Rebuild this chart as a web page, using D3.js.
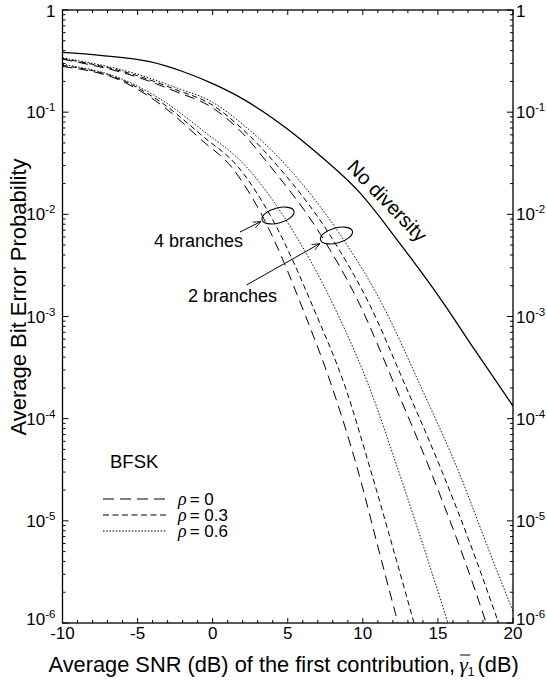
<!DOCTYPE html>
<html>
<head>
<meta charset="utf-8">
<script src="https://cdnjs.cloudflare.com/ajax/libs/d3/7.8.5/d3.min.js"></script>
<style>
  body { margin: 0; background: #fff; }
  svg text { font-family: "Liberation Sans", Arial, Helvetica, sans-serif; fill: #000; }
</style>
</head>
<body>
<svg id="chart" width="547" height="684"></svg>
<script>
// curves: [average SNR (dB), bit error probability]
var noDiversity = [[-10,0.385],[-7.5,0.36],[-4.18,0.312],[-2,0.25],[0,0.19],[2,0.135],[5,0.068],[6.67,0.043],[9.81,0.0162],[12.46,0.0052],[15.23,1.45e-3],[17.5,4.6e-4],[20,1.33e-4]];
var branch2rho0  = [[-10,0.330],[-5,0.22],[-2.5,0.16],[0,0.11],[2,0.062],[3.8,0.030],[7.2,0.0063],[9.7,1.4e-3],[12.2,2e-4],[14.5,3.1e-5],[16.78,4.1e-6],[18.22,1e-6]];
var branch2rho03 = [[-10,0.335],[-5,0.227],[-2.5,0.167],[0,0.117],[2,0.068],[4.3,0.030],[7.8,0.0063],[10.35,1.4e-3],[12.9,2e-4],[15.25,3.1e-5],[17.56,4.1e-6],[19.04,1e-6]];
var branch2rho06 = [[-10,0.340],[-5,0.235],[-2.5,0.175],[0,0.125],[2,0.076],[4.9,0.030],[8.5,0.0063],[11.2,1.4e-3],[13.9,2e-4],[16.35,3.1e-5],[18.66,4.1e-6],[20,1.3e-6]];
var branch4rho0  = [[-10,0.280],[-6,0.200],[-3.5,0.120],[-0.65,0.052],[1.26,0.029],[3.3,0.0097],[6.2,1e-3],[7.97,2e-4],[9.6,3.4e-5],[11.24,4.1e-6],[12.34,1e-6]];
var branch4rho03 = [[-10,0.287],[-6,0.205],[-3.5,0.127],[-0.65,0.058],[1.7,0.029],[3.85,0.0097],[6.95,1e-3],[8.85,2e-4],[10.5,3.2e-5],[12.24,4.1e-6],[13.41,1e-6]];
var branch4rho06 = [[-10,0.294],[-6,0.210],[-3.5,0.135],[-0.65,0.066],[2.26,0.029],[4.7,0.0097],[8.4,1e-3],[10.45,2e-4],[12.4,3e-5],[14.34,4.1e-6],[15.67,1e-6]];

var xMajor = [-10, -5, 0, 5, 10, 15, 20];
var xLabels = ['-10', '-5', '0', '5', '10', '15', '20'];
var yExponents = [0, -1, -2, -3, -4, -5, -6];
var legendLabels = ['0', '0.3', '0.6'];

var svg = d3.select('#chart');
var padL = 62.5, padR = 513, padT = 10, padB = 623;

var x = d3.scaleLinear().domain([-10, 20]).range([padL, padR]);
var y = d3.scaleLog().domain([1e-6, 1]).range([padB, padT]);

var xMinor = d3.range(-10, 21, 1);
var yMinor = [];
yExponents.slice(1).forEach(function(e) {
	for (var k = 2; k <= 9; k++) {yMinor.push(k * Math.pow(10, e));}});

var dashes = {rho0: '10,6', rho3: '5.5,3.5', rho6: '1.6,1.6'};

// frame with inward ticks
var axes = svg.append('g').attr('stroke', '#000').attr('fill', 'none');
axes.append('rect')
	.attr('x', padL).attr('y', padT)
	.attr('width', padR - padL).attr('height', padB - padT)
	.attr('stroke-width', 1.3);

xMinor.forEach(function(v) {
	var len = (xMajor.indexOf(v) >= 0) ? 5 : 3;
	axes.append('line').attr('x1', x(v)).attr('x2', x(v)).attr('y1', padB).attr('y2', padB - len);
	axes.append('line').attr('x1', x(v)).attr('x2', x(v)).attr('y1', padT).attr('y2', padT + len);});
yExponents.forEach(function(e) {
	var v = Math.pow(10, e);
	axes.append('line').attr('x1', padL).attr('x2', padL + 6).attr('y1', y(v)).attr('y2', y(v));
	axes.append('line').attr('x1', padR).attr('x2', padR - 6).attr('y1', y(v)).attr('y2', y(v));});
yMinor.forEach(function(v) {
	axes.append('line').attr('x1', padL).attr('x2', padL + 3).attr('y1', y(v)).attr('y2', y(v));
	axes.append('line').attr('x1', padR).attr('x2', padR - 3).attr('y1', y(v)).attr('y2', y(v));});

// tick labels
svg.append('g').selectAll('text').data(xMajor).enter().append('text')
	.attr('x', function(d) {return x(d);})
	.attr('y', padB + 16)
	.attr('text-anchor', 'middle')
	.style('font-size', '17px')
	.text(function(d, i) {return xLabels[i];});

function powerLabel(g, e, xp, anchorEnd) {
	var shift = (e === 0) ? 7 : (e === -6 ? 2 : 6);
	var t = g.append('text')
		.attr('y', y(Math.pow(10, e)) + shift)
		.style('font-size', '17px');
	if (e === 0) {
		t.text('1');
	} else {
		t.append('tspan').text('10');
		t.append('tspan').attr('dy', -7).style('font-size', '11.5px').text(String(e));}
	t.attr('x', xp).attr('text-anchor', anchorEnd ? 'end' : 'start');
}
var yl = svg.append('g');
yExponents.forEach(function(e) {
	powerLabel(yl, e, padL - 7, true);
	powerLabel(yl, e, padR + 3, false);});

// axis titles
svg.append('text')
	.attr('transform', 'translate(26,297) rotate(-90)')
	.attr('text-anchor', 'middle')
	.style('font-size', '22px')
	.text('Average Bit Error Probability');

var xt = svg.append('text')
	.attr('x', 48.5).attr('y', 672)
	.style('font-size', '21.8px');
xt.append('tspan').text('Average SNR (dB) of the first contribution,');
var gammaSpan = xt.append('tspan').attr('dx', 4)
	.style('font-family', '"Liberation Serif", "DejaVu Serif", serif')
	.style('font-style', 'italic').style('font-size', '22px').text('\u03b3');
xt.append('tspan').attr('dy', 4).style('font-size', '12px').text('1');
xt.append('tspan').attr('dy', -4).attr('dx', 3).text('(dB)');

// curves
var line = d3.line()
	.x(function(d) {return x(d[0]);})
	.y(function(d) {return y(d[1]);})
	.curve(d3.curveMonotoneX);

var clip = svg.append('clipPath').attr('id', 'plotClip');
clip.append('rect').attr('x', padL).attr('y', padT).attr('width', padR - padL).attr('height', padB - padT);

var plot = svg.append('g').attr('clip-path', 'url(#plotClip)')
	.attr('fill', 'none').attr('stroke', '#000');

var series = [
	{data: noDiversity, dash: null, w: 1.3},
	{data: branch2rho0, dash: dashes.rho0, w: 1},
	{data: branch2rho03, dash: dashes.rho3, w: 1},
	{data: branch2rho06, dash: dashes.rho6, w: 0.9},
	{data: branch4rho0, dash: dashes.rho0, w: 1},
	{data: branch4rho03, dash: dashes.rho3, w: 1},
	{data: branch4rho06, dash: dashes.rho6, w: 0.9}];

plot.selectAll('path').data(series).enter().append('path')
	.attr('d', function(s) {return line(s.data);})
	.attr('stroke-width', function(s) {return s.w;})
	.attr('stroke-dasharray', function(s) {return s.dash;});

// annotations
var ann = svg.append('g');
ann.append('text')
	.attr('transform', 'translate(346,168) rotate(46)')
	.style('font-size', '20px')
	.text('No diversity');

ann.append('ellipse').attr('cx', 278).attr('cy', 215.5).attr('rx', 16.5).attr('ry', 7.5)
	.attr('transform', 'rotate(-15,278,215.5)')
	.attr('fill', 'none').attr('stroke', '#000').attr('stroke-width', 1.1);
ann.append('ellipse').attr('cx', 336.5).attr('cy', 235.5).attr('rx', 16.5).attr('ry', 7.5)
	.attr('transform', 'rotate(-15,336.5,235.5)')
	.attr('fill', 'none').attr('stroke', '#000').attr('stroke-width', 1.1);

var defs = svg.append('defs');
defs.append('marker').attr('id', 'arrow')
	.attr('viewBox', '0 0 10 10').attr('refX', 10).attr('refY', 5)
	.attr('markerWidth', 8).attr('markerHeight', 8).attr('orient', 'auto')
	.append('path').attr('d', 'M0,1 L10,5 L0,9').attr('fill', 'none').attr('stroke', '#000').attr('stroke-width', 1);

ann.append('line').attr('x1', 240).attr('y1', 232).attr('x2', 261).attr('y2', 221.5)
	.attr('stroke', '#000').attr('stroke-width', 1).attr('marker-end', 'url(#arrow)');
ann.append('line').attr('x1', 246.5).attr('y1', 285).attr('x2', 320).attr('y2', 243.5)
	.attr('stroke', '#000').attr('stroke-width', 1).attr('marker-end', 'url(#arrow)');

ann.append('text').attr('x', 243).attr('y', 247).attr('text-anchor', 'end')
	.style('font-size', '18px').text('4 branches');
ann.append('text').attr('x', 277).attr('y', 302).attr('text-anchor', 'end')
	.style('font-size', '18px').text('2 branches');

// legend
var lg = svg.append('g');
lg.append('text').attr('x', 110).attr('y', 468).style('font-size', '18.5px').text('BFSK');
var legendDash = ['11,6', '6,3.5', dashes.rho6];
legendLabels.forEach(function(lbl, i) {
	var ly = 499 + i * 16;
	lg.append('line').attr('x1', 103).attr('x2', 167).attr('y1', ly).attr('y2', ly)
		.attr('stroke', '#000').attr('stroke-width', 1).attr('stroke-dasharray', legendDash[i]);
	var t = lg.append('text').attr('x', 178).attr('y', ly + 5.5).style('font-size', '17px');
	t.append('tspan')
		.style('font-family', '"Liberation Serif", "DejaVu Serif", serif')
		.style('font-style', 'italic').style('font-size', '18px').text('\u03c1');
	t.append('tspan').attr('dx', 3).text('= ' + lbl);});

// overbar above gamma in axis title
var gBox = gammaSpan.node().getBBox();
svg.append('line')
	.attr('x1', gBox.x + 1).attr('x2', gBox.x + gBox.width + 1)
	.attr('y1', gBox.y + 3).attr('y2', gBox.y + 3)
	.attr('stroke', '#000').attr('stroke-width', 1);
</script>
</body>
</html>
